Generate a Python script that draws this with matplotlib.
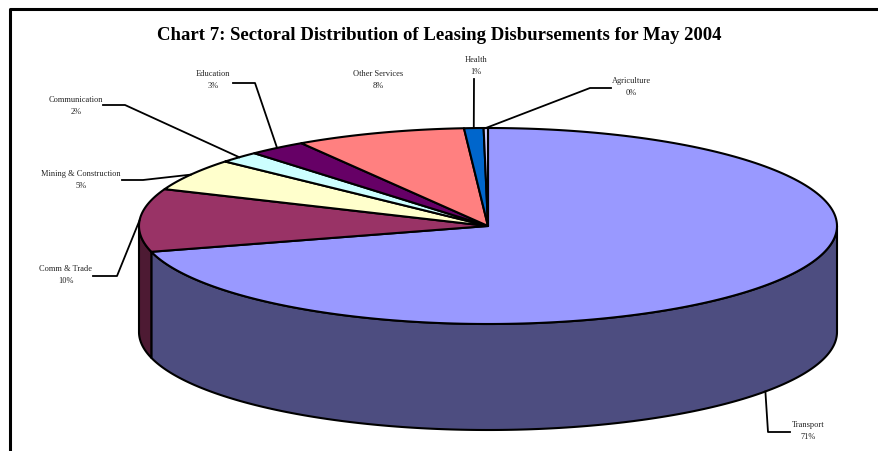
"""Chart 7: sectoral distribution of leasing disbursements, drawn as a 3D pie."""

import numpy as np
import matplotlib.pyplot as plt
from matplotlib.patches import Polygon
from matplotlib.colors import to_rgb

sectors = ['Transport', 'Comm & Trade', 'Mining & Construction', 'Communication',
           'Education', 'Other Services', 'Health', 'Agriculture']
shares = [70.9, 10.4, 5.3, 1.9, 2.7, 7.9, 0.9, 0.2]
colors = ['#9999FF', '#993366', '#FFFFCC', '#CCFFFF',
          '#660066', '#FF8080', '#0066CC', '#CCCCFF']

# label placement (pixels) and leader-line elbows
label_pos = [(808, 431), (66, 275), (81, 180), (76, 106),
             (213, 80), (378, 80), (476, 66), (631, 87)]
elbows = [[(768, 433), (790, 433)],
          [(117, 277), (93, 277)],
          [(143, 181), (122, 181)],
          [(125, 106), (103, 106)],
          [(255, 84), (233, 84)],
          None,
          [(474, 80)],
          [(590, 89), (611, 89)]]

# pie geometry in pixels
cx, cy, a, b, depth = 488, 227, 349, 98, 106

plt.rcParams['font.family'] = ['Liberation Serif', 'DejaVu Serif']
fig = plt.figure(figsize=(8.79, 4.52), dpi=100)
ax = fig.add_axes([0, 0, 1, 1])
ax.set_xlim(0, 879)
ax.set_ylim(452, 0)
ax.axis('off')


def rim(t, drop=0):
    t = np.radians(t)
    return np.column_stack([cx + a * np.cos(t), cy + b * np.sin(t) + drop])


fracs = np.array(shares) / sum(shares)
edges = -90 + 360 * np.concatenate([[0], np.cumsum(fracs)])

# side walls (front half only)
for i, c in enumerate(colors):
    lo, hi = max(edges[i], 0), min(edges[i + 1], 180)
    if hi <= lo:
        continue
    t = np.linspace(lo, hi, 200)
    pts = np.vstack([rim(t), rim(t[::-1], depth)])
    dark = tuple(0.5 * v for v in to_rgb(c))
    ax.add_patch(Polygon(pts, closed=True, fc=dark, ec='black', lw=1.5, joinstyle='round'))

# top face
for i, c in enumerate(colors):
    t = np.linspace(edges[i], edges[i + 1], 200)
    pts = np.vstack([[cx, cy], rim(t)])
    ax.add_patch(Polygon(pts, closed=True, fc=c, ec='black', lw=1.5, joinstyle='round'))

# labels with leader lines
for i, name in enumerate(sectors):
    pct = 100 * fracs[i]
    lx, ly = label_pos[i]
    ax.text(lx, ly, f'{name}\n{pct:.0f}%', ha='center', va='center',
            fontsize=6, linespacing=1.6, color='#222222')
    if elbows[i] is None:
        continue
    mid = (edges[i] + edges[i + 1]) / 2
    drop = depth if 0 < mid < 180 and i == 0 else 0
    start = rim([mid], drop)[0]
    path = np.vstack([start] + [np.array(p) for p in elbows[i]])
    ax.plot(path[:, 0], path[:, 1], color='black', lw=1.3)

ax.text(439, 36, 'Chart 7: Sectoral Distribution of Leasing Disbursements for May 2004',
        ha='center', va='center', fontsize=13.5, fontweight='bold')

# chart frame (cut off at right and bottom)
ax.plot([10, 10, 879], [452, 10, 10], color='black', lw=2.2)

fig.savefig('out.png', dpi=100)
